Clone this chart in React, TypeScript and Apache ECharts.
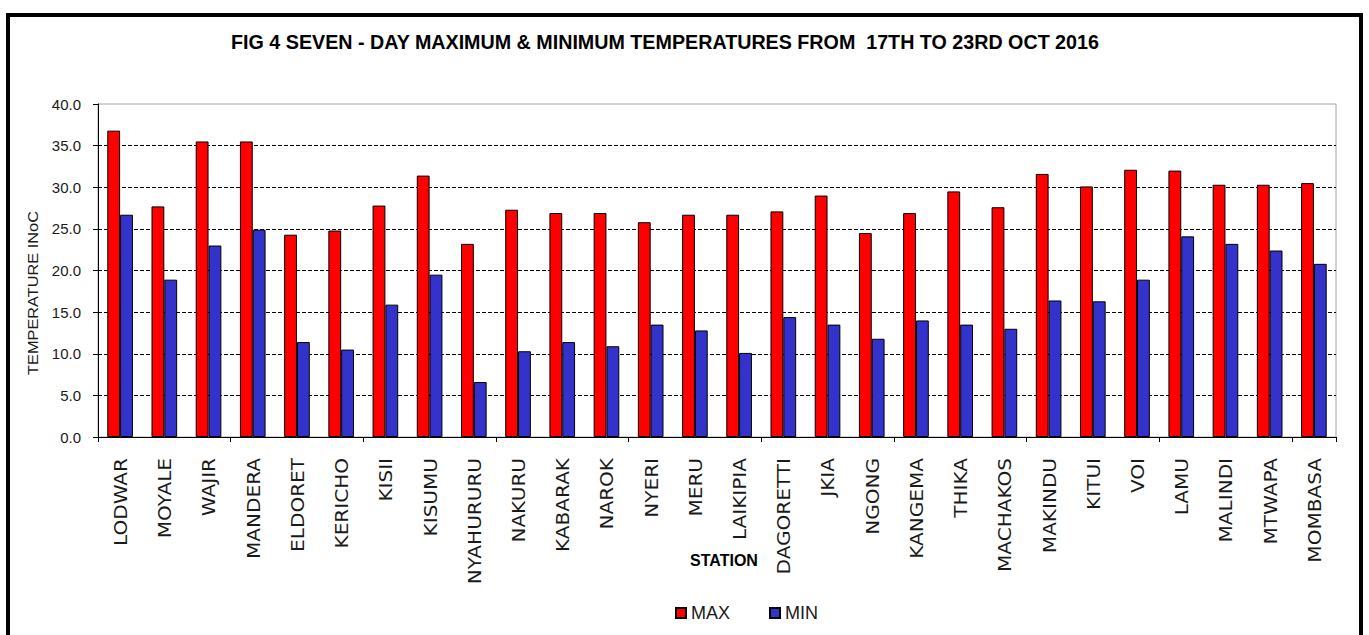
import React, { useEffect, useRef } from "react";
import * as echarts from "echarts";

const stations = [
  "LODWAR", "MOYALE", "WAJIR", "MANDERA", "ELDORET", "KERICHO", "KISII", "KISUMU",
  "NYAHURURU", "NAKURU", "KABARAK", "NAROK", "NYERI", "MERU", "LAIKIPIA", "DAGORETTI",
  "JKIA", "NGONG", "KANGEMA", "THIKA", "MACHAKOS", "MAKINDU", "KITUI", "VOI",
  "LAMU", "MALINDI", "MTWAPA", "MOMBASA",
];
const maxTemps = [
  36.8, 27.7, 35.5, 35.5, 24.3, 24.8, 27.8, 31.4,
  23.2, 27.3, 26.9, 26.9, 25.8, 26.7, 26.7, 27.1,
  29.0, 24.5, 26.9, 29.5, 27.6, 31.6, 30.1, 32.1,
  32.0, 30.3, 30.3, 30.5,
];
const minTemps = [
  26.7, 18.9, 23.0, 24.9, 11.4, 10.5, 15.9, 19.5,
  6.6, 10.3, 11.4, 10.9, 13.5, 12.8, 10.1, 14.4,
  13.5, 11.8, 14.0, 13.5, 13.0, 16.4, 16.3, 18.9,
  24.1, 23.2, 22.4, 20.8,
];
const titleText = "FIG 4 SEVEN - DAY MAXIMUM & MINIMUM TEMPERATURES FROM  17TH TO 23RD OCT 2016";
const yAxisTitle = "TEMPERATURE INoC";
const xAxisTitle = "STATION";

export default function App() {
  const ref = useRef<HTMLDivElement>(null);
  useEffect(() => {
    if (!ref.current) return;
    const chart = echarts.init(ref.current, null, { renderer: "svg" });
    const labelColor = "#1a1a1a";
    const baseGraphics: any[] = [
      {
        type: "rect",
        shape: { x: 8, y: 15, width: 1353, height: 700 },
        style: { fill: "none", stroke: "#000", lineWidth: 4 },
        silent: true,
      },
      {
        type: "text",
        x: 665,
        y: 42,
        style: {
          text: titleText,
          fontFamily: "Liberation Sans",
          fontWeight: "bold",
          fontSize: 19.7,
          fill: "#000",
          textAlign: "center",
          textVerticalAlign: "middle",
        },
      },
      {
        type: "text",
        x: 33,
        y: 293,
        rotation: Math.PI / 2,
        scaleX: 1.09,
        style: {
          text: yAxisTitle,
          fontFamily: "Liberation Sans",
          fontSize: 15,
          fill: labelColor,
          textAlign: "center",
          textVerticalAlign: "middle",
        },
      },
      {
        type: "text",
        x: 724,
        y: 560,
        style: {
          text: xAxisTitle,
          fontFamily: "Liberation Sans",
          fontWeight: "bold",
          fontSize: 16,
          fill: "#000",
          textAlign: "center",
          textVerticalAlign: "middle",
        },
      },
    ];
    chart.setOption({
      animation: false,
      backgroundColor: "#ffffff",
      grid: {
        left: 98,
        right: 33,
        top: 104,
        bottom: 198,
        show: true,
        borderColor: "#a6a6a6",
        borderWidth: 1,
        backgroundColor: "transparent",
      },
      legend: {
        left: 675,
        top: 604,
        padding: 0,
        itemWidth: 10,
        itemHeight: 10,
        itemGap: 39,
        icon: "rect",
        textStyle: { fontFamily: "Liberation Sans", fontSize: 18, color: labelColor },
        data: ["MAX", "MIN"],
      },
      xAxis: {
        type: "category",
        data: stations,
        axisLine: { show: true, lineStyle: { color: "#000", width: 1 } },
        axisTick: { show: true, length: 5, lineStyle: { color: "#000" } },
        axisLabel: { show: false },
        splitLine: { show: false },
      },
      yAxis: {
        type: "value",
        min: 0,
        max: 40,
        interval: 5,
        axisLine: { show: true, lineStyle: { color: "#000", width: 1 } },
        axisTick: { show: true, length: 5, lineStyle: { color: "#000" } },
        axisLabel: {
          margin: 17,
          fontFamily: "Liberation Sans",
          fontSize: 15,
          color: labelColor,
          formatter: (v: number) => v.toFixed(1),
        },
        splitLine: {
          show: true,
          showMinLine: false,
          showMaxLine: false,
          lineStyle: { color: "#000", type: [4, 2], width: 1 },
        },
      },
      series: [
        {
          name: "MAX",
          type: "bar",
          data: maxTemps,
          barGap: "0%",
          barCategoryGap: "42%",
          itemStyle: { color: "#ff0000", borderColor: "#000", borderWidth: 1 },
        },
        {
          name: "MIN",
          type: "bar",
          data: minTemps,
          itemStyle: { color: "#3333cc", borderColor: "#000", borderWidth: 1 },
        },
      ],
      graphic: baseGraphics,
    });
    // Category labels placed through the axis scale, stretched along the text like the reference
    const labelTop = chart.convertToPixel({ yAxisIndex: 0 }, 0) + 21;
    const labelGraphics = stations.map((name, i) => {
      const px = chart.convertToPixel({ xAxisIndex: 0 }, i) as number;
      return {
        type: "text",
        x: px + 1,
        y: labelTop,
        rotation: Math.PI / 2,
        scaleX: 1.18,
        style: {
          text: name,
          fontFamily: "DejaVu Sans",
          fontSize: 17,
          fill: labelColor,
          textAlign: "right",
          textVerticalAlign: "middle",
        },
      };
    });
    chart.setOption({ graphic: [...baseGraphics, ...labelGraphics] }, { replaceMerge: ["graphic"] });
    return () => chart.dispose();
  }, []);
  return (
    <div style={{ position: "absolute", left: 0, top: 0, width: 1369, height: 635, background: "#fff" }}>
      <div ref={ref} style={{ width: 1369, height: 635 }} />
    </div>
  );
}
